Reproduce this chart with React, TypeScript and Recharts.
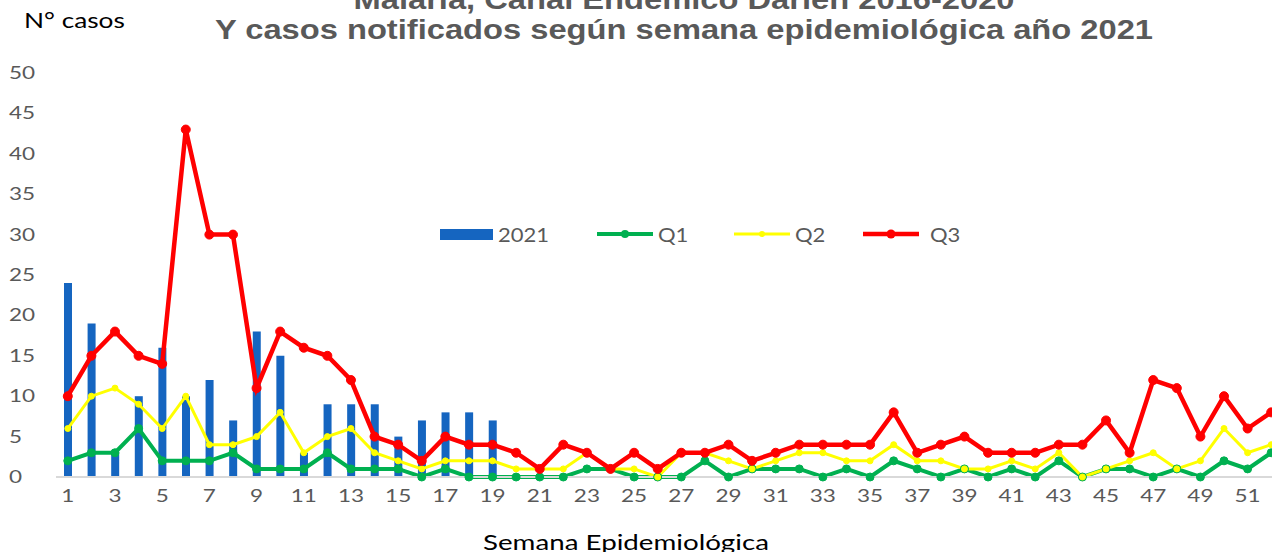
import React from "react";
import { ComposedChart, Bar, Line, XAxis, YAxis, Legend } from "recharts";

const weeks = [
  1, 2, 3, 4, 5, 6, 7, 8, 9, 10, 11, 12, 13, 14, 15, 16, 17, 18, 19, 20, 21, 22, 23, 24, 25, 26,
  27, 28, 29, 30, 31, 32, 33, 34, 35, 36, 37, 38, 39, 40, 41, 42, 43, 44, 45, 46, 47, 48, 49, 50, 51, 52,
];

// casos 2021 (solo hasta semana 19)
const casos2021 = [24, 19, 3, 10, 16, 10, 12, 7, 18, 15, 3, 9, 9, 9, 5, 7, 8, 8, 7];

const q1 = [
  2, 3, 3, 6, 2, 2, 2, 3, 1, 1, 1, 3, 1, 1, 1, 0, 1, 0, 0, 0, 0, 0, 1, 1, 0, 0,
  0, 2, 0, 1, 1, 1, 0, 1, 0, 2, 1, 0, 1, 0, 1, 0, 2, 0, 1, 1, 0, 1, 0, 2, 1, 3,
];
const q2 = [
  6, 10, 11, 9, 6, 10, 4, 4, 5, 8, 3, 5, 6, 3, 2, 1, 2, 2, 2, 1, 1, 1, 3, 1, 1, 0,
  3, 3, 2, 1, 2, 3, 3, 2, 2, 4, 2, 2, 1, 1, 2, 1, 3, 0, 1, 2, 3, 1, 2, 6, 3, 4,
];
const q3 = [
  10, 15, 18, 15, 14, 43, 30, 30, 11, 18, 16, 15, 12, 5, 4, 2, 5, 4, 4, 3, 1, 4, 3, 1, 3, 1,
  3, 3, 4, 2, 3, 4, 4, 4, 4, 8, 3, 4, 5, 3, 3, 3, 4, 4, 7, 3, 12, 11, 5, 10, 6, 8,
];

const yTicks = [0, 5, 10, 15, 20, 25, 30, 35, 40, 45, 50];

const data = weeks.map((w, i) => ({
  semana: w,
  c2021: i < casos2021.length ? casos2021[i] : null,
  q1: q1[i],
  q2: q2[i],
  q3: q3[i],
}));

const GRAY = "#595959";
const FONT = "Lato, 'Open Sans', sans-serif";

function YTick({ y, payload }: any) {
  return (
    <g transform={`translate(9,${y}) scale(1.25,1)`}>
      <text x={0} y={0} dy={6} textAnchor="start" fill={GRAY} fontSize={18} fontFamily={FONT}>
        {payload.value}
      </text>
    </g>
  );
}

function XTick({ x, y, payload }: any) {
  return (
    <g transform={`translate(${x},${y}) scale(1.25,1)`}>
      <text x={0} y={0} dy={17} textAnchor="middle" fill={GRAY} fontSize={18} fontFamily={FONT}>
        {payload.value}
      </text>
    </g>
  );
}

function LegendBox() {
  const txt = {
    position: "absolute" as const,
    top: 222,
    fontSize: 20,
    color: GRAY,
    fontFamily: FONT,
    whiteSpace: "nowrap" as const,
    transform: "scaleX(1.1)",
    transformOrigin: "left",
  };
  const line = (left: number, color: string, w: number, r: number) => (
    <svg style={{ position: "absolute", left, top: 226 }} width={56} height={16}>
      <line x1={0} y1={8} x2={56} y2={8} stroke={color} strokeWidth={w} />
      <circle cx={28} cy={8} r={r} fill={color} />
    </svg>
  );
  return (
    <div style={{ position: "absolute", left: 0, top: 0, width: 0, height: 0 }}>
      <div style={{ position: "absolute", left: 440, top: 229, width: 53, height: 11, background: "#1565C0" }} />
      <span style={{ ...txt, left: 498 }}>2021</span>
      {line(597, "#00B050", 4, 4)}
      <span style={{ ...txt, left: 658 }}>Q1</span>
      {line(734, "#FFFF00", 3, 3)}
      <span style={{ ...txt, left: 795 }}>Q2</span>
      {line(863, "#FF0000", 4.5, 4.5)}
      <span style={{ ...txt, left: 930 }}>Q3</span>
    </div>
  );
}

export default function App() {
  return (
    <div
      style={{
        position: "fixed",
        left: 0,
        top: 0,
        width: 1272,
        height: 552,
        overflow: "hidden",
        background: "#fff",
      }}
    >
      <ComposedChart
        width={1300}
        height={552}
        data={data}
        margin={{ top: 73, right: 17, left: 0, bottom: 45 }}
        barCategoryGap={0}
      >
        <YAxis
          width={56}
          domain={[0, 50]}
          ticks={yTicks}
          axisLine={false}
          tickLine={false}
          tick={<YTick />}
          interval={0}
        />
        <XAxis
          dataKey="semana"
          interval={1}
          tickLine={false}
          axisLine={{ stroke: "#D9D9D9", strokeWidth: 2 }}
          tick={<XTick />}
          height={30}
        />
        <Legend
          layout="horizontal"
          verticalAlign="middle"
          align="center"
          content={() => <LegendBox />}
          wrapperStyle={{ position: "absolute", left: 0, top: 0, width: 0, height: 0 }}
        />
        <Bar dataKey="c2021" barSize={8} fill="#1565C0" isAnimationActive={false} />
        <Line
          dataKey="q1"
          type="linear"
          stroke="#00B050"
          strokeWidth={4}
          dot={{ r: 4, fill: "#00B050", stroke: "#00B050", strokeWidth: 1 }}
          isAnimationActive={false}
        />
        <Line
          dataKey="q2"
          type="linear"
          stroke="#FFFF00"
          strokeWidth={3}
          dot={{ r: 3, fill: "#FFFF00", stroke: "#FFFF00", strokeWidth: 1 }}
          isAnimationActive={false}
        />
        <Line
          dataKey="q3"
          type="linear"
          stroke="#FF0000"
          strokeWidth={4.5}
          dot={{ r: 4.5, fill: "#FF0000", stroke: "#FF0000", strokeWidth: 1 }}
          isAnimationActive={false}
        />
      </ComposedChart>

      <div
        style={{
          position: "absolute",
          left: 684,
          top: -15,
          transform: "translateX(-50%) scaleX(1.21)",
          whiteSpace: "nowrap",
          textAlign: "center",
          fontFamily: "'Liberation Sans', Arial, sans-serif",
          fontWeight: "bold",
          fontSize: 27,
          lineHeight: "30px",
          color: GRAY,
        }}
      >
        <div>Malaria, Canal Endémico Darién 2016-2020</div>
        <div>Y casos notificados según semana epidemiológica año 2021</div>
      </div>

      <div
        style={{
          position: "absolute",
          left: 24,
          top: 7,
          fontFamily: FONT,
          fontSize: 21,
          color: "#000",
          whiteSpace: "nowrap",
          transform: "scaleX(1.25)",
          transformOrigin: "left",
        }}
      >
        N° casos
      </div>

      <div
        style={{
          position: "absolute",
          left: 483,
          top: 528,
          fontFamily: FONT,
          fontSize: 22,
          color: "#000",
          whiteSpace: "nowrap",
          transform: "scaleX(1.26)",
          transformOrigin: "left",
        }}
      >
        Semana Epidemiológica
      </div>
    </div>
  );
}
